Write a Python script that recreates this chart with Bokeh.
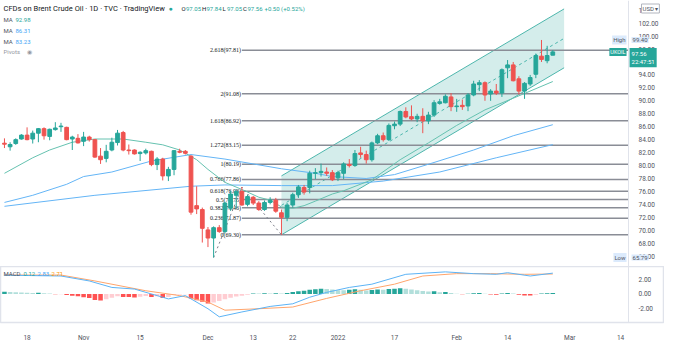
from bokeh.plotting import figure
from bokeh.models import ColumnDataSource, Range1d, FixedTicker, Label, NumeralTickFormatter, LinearAxis
from bokeh.layouts import column
from bokeh.embed import file_html
from bokeh.resources import INLINE

# ---------------- data ----------------
oct_days = [12, 13, 14, 15, 18, 19, 20, 21, 22, 25, 26, 27, 28, 29]
nov_days = [1, 2, 3, 4, 5, 8, 9, 10, 11, 12, 15, 16, 17, 18, 19, 22, 23, 24, 25, 26, 29, 30]
dec_days = [1, 2, 3, 6, 7, 8, 9, 10, 13, 14, 15, 16, 17, 20, 21, 22, 23, 24, 27, 28, 29, 30, 31]
jan_days = [3, 4, 5, 6, 7, 10, 11, 12, 13, 14, 17, 18, 19, 20, 21, 24, 25, 26, 27, 28, 31]
feb_days = [1, 2, 3, 4, 7, 8, 9, 10, 11, 14, 15, 16, 17, 18, 21, 22, 23, 24]
future_days = ["2022-02-25", "2022-02-28", "2022-03-01", "2022-03-02", "2022-03-03", "2022-03-04",
               "2022-03-07", "2022-03-08", "2022-03-09", "2022-03-10", "2022-03-11", "2022-03-14",
               "2022-03-15", "2022-03-16"]

opens = [83.45, 82.9, 83.4, 84.1, 84.7, 84.1, 85.0, 85.7, 84.5, 85.55, 86.0, 85.9, 84.1, 84.2,
         83.75, 84.4, 84.0, 81.45, 81.1, 82.4, 83.55, 85.1, 82.4, 82.4, 81.85, 81.95, 82.2, 80.15,
         81.0, 78.4, 79.4, 82.2, 82.2, 81.45, 73.8, 73.2, 70.05, 68.8, 70.4, 69.8, 73.4, 75.4,
         76.0, 74.0, 75.1, 74.2, 73.2, 74.3, 74.65, 72.7, 72.0, 73.9, 75.5, 76.6, 76.6, 78.8,
         78.9, 79.0, 78.9, 78.1, 78.8, 80.15, 80.0, 81.95, 81.7, 80.9, 83.5, 84.6, 84.0, 86.15,
         86.4, 88.35, 87.55, 87.2, 87.6, 86.9, 87.8, 89.6, 89.7, 90.6, 89.1, 89.3, 89.2, 90.9,
         92.5, 92.8, 91.05, 91.5, 91.2, 95.1, 95.55, 93.4, 91.5, 92.6, 94.1, 96.9, 96.2, 97.05]
highs = [84.2, 83.6, 84.2, 84.85, 85.9, 85.4, 85.8, 85.9, 85.7, 86.7, 86.6, 86.0, 84.6, 84.85,
         85.2, 84.6, 84.1, 82.7, 83.2, 84.3, 85.5, 85.35, 83.25, 82.5, 82.2, 82.6, 82.3, 81.3,
         81.2, 79.8, 82.4, 82.6, 82.4, 81.6, 76.8, 73.5, 70.5, 70.6, 70.8, 74.4, 76.1, 76.35,
         76.68, 75.5, 75.3, 74.5, 74.6, 75.1, 75.0, 73.2, 74.2, 75.8, 77.0, 77.0, 79.2, 79.6,
         80.3, 79.7, 79.3, 79.2, 80.5, 81.0, 82.4, 82.9, 82.3, 83.7, 84.9, 85.1, 86.5, 86.8,
         88.5, 89.0, 89.3, 88.0, 88.85, 88.3, 90.1, 90.3, 91.0, 91.2, 90.3, 90.2, 91.2, 93.1,
         93.2, 93.0, 91.8, 92.6, 95.0, 96.3, 96.0, 93.8, 92.9, 94.0, 97.3, 99.40, 98.5, 97.84]
lows = [82.7, 82.3, 83.2, 84.0, 83.9, 83.4, 83.6, 84.0, 83.9, 85.4, 85.2, 83.9, 82.4, 83.4,
        83.0, 83.7, 81.2, 80.25, 80.5, 82.2, 83.1, 82.2, 81.7, 81.7, 80.7, 81.7, 79.9, 79.3,
        77.7, 77.6, 78.5, 81.9, 81.7, 72.4, 72.5, 68.1, 67.4, 65.79, 69.6, 69.5, 73.0, 73.4,
        73.8, 73.7, 73.9, 73.0, 73.0, 74.0, 72.7, 69.30, 71.4, 73.5, 75.0, 75.5, 75.7, 77.9,
        78.3, 78.4, 77.6, 77.6, 77.9, 79.7, 79.8, 81.2, 80.3, 80.6, 83.3, 83.7, 83.8, 85.6,
        86.1, 87.3, 87.0, 86.7, 85.0, 86.4, 87.5, 89.4, 89.6, 88.4, 88.3, 88.6, 88.4, 90.7,
        91.5, 90.0, 90.0, 90.9, 90.6, 93.5, 93.0, 91.0, 90.3, 92.3, 93.5, 96.0, 95.8, 97.05]
closes = [83.3, 83.25, 84.0, 84.7, 84.0, 85.0, 85.7, 84.6, 85.6, 85.8, 86.1, 84.0, 84.4, 83.5,
          84.4, 84.0, 81.3, 80.9, 82.2, 83.6, 85.0, 82.4, 82.3, 81.8, 82.05, 82.3, 80.15, 81.0,
          78.4, 79.4, 82.3, 82.05, 81.9, 72.8, 73.3, 70.3, 68.8, 70.4, 69.8, 74.2, 75.6, 76.0,
          73.9, 75.2, 74.2, 73.2, 74.3, 74.65, 72.95, 72.0, 73.9, 75.5, 76.7, 75.9, 78.8, 78.9,
          79.1, 78.8, 77.8, 78.9, 80.25, 80.0, 81.85, 81.7, 80.9, 83.5, 84.6, 84.0, 86.2, 86.4,
          88.35, 87.5, 87.2, 87.6, 86.9, 87.8, 89.7, 89.85, 90.7, 89.1, 89.2, 89.1, 90.9, 92.6,
          92.8, 90.9, 91.5, 91.2, 94.8, 95.55, 93.1, 91.5, 92.7, 93.6, 97.0, 96.4, 97.0, 97.56]

# moving averages (date, value)
ma20_dates = ["2021-10-12", "2021-10-19", "2021-10-22", "2021-10-28", "2021-11-03", "2021-11-10",
              "2021-11-16", "2021-11-19", "2021-11-24", "2021-11-29", "2021-12-01", "2021-12-06",
              "2021-12-09", "2021-12-14", "2021-12-16", "2021-12-20", "2021-12-22", "2021-12-24",
              "2021-12-28", "2021-12-31", "2022-01-04", "2022-01-11", "2022-01-18", "2022-01-25",
              "2022-02-01", "2022-02-08", "2022-02-15", "2022-02-24"]
ma20_vals = [78.8, 81.2, 82.4, 83.6, 84.1, 84.1, 83.6, 83.2, 82.4, 80.9, 79.4, 77.4, 76.3, 75.1,
             74.65, 73.6, 73.4, 73.8, 74.5, 75.6, 76.1, 77.8, 80.9, 83.5, 86.2, 88.6, 90.4, 92.98]
ma50_dates = ["2021-10-12", "2021-10-19", "2021-10-27", "2021-11-01", "2021-11-08", "2021-11-17",
              "2021-11-26", "2021-12-06", "2021-12-20", "2021-12-28", "2021-12-31", "2022-01-10",
              "2022-01-17", "2022-01-25", "2022-02-04", "2022-02-15", "2022-02-24"]
ma50_vals = [74.3, 75.4, 77.1, 78.3, 79.0, 80.7, 81.7, 81.0, 79.5, 78.8, 78.3, 78.0, 78.6, 80.2,
             82.4, 84.6, 86.31]
ma100_dates = ["2021-10-12", "2021-11-03", "2021-11-26", "2021-12-06", "2021-12-20", "2021-12-31",
               "2022-01-13", "2022-01-27", "2022-02-10", "2022-02-24"]
ma100_vals = [73.7, 75.4, 76.8, 77.0, 76.9, 76.9, 77.6, 79.0, 81.2, 83.23]

macd_dates = ["2021-10-12", "2021-10-26", "2021-11-02", "2021-11-08", "2021-11-12", "2021-11-18",
              "2021-11-22", "2021-11-25", "2021-12-01", "2021-12-03", "2021-12-09", "2021-12-16",
              "2021-12-22", "2021-12-27", "2021-12-30", "2022-01-05", "2022-01-11", "2022-01-19",
              "2022-01-28", "2022-02-04", "2022-02-10", "2022-02-14", "2022-02-18", "2022-02-24"]
macd_vals = [2.55, 2.44, 1.77, 0.89, 0.67, -0.22, -0.67, -0.22, -2.0, -3.1, -2.44, -1.69, -1.33,
             -0.44, 0.22, 0.89, 1.33, 2.67, 3.0, 2.76, 2.67, 2.89, 2.44, 2.83]
signal_dates = ["2021-10-12", "2021-10-26", "2021-11-03", "2021-11-16", "2021-11-24", "2021-12-01",
                "2021-12-06", "2021-12-14", "2021-12-22", "2021-12-30", "2022-01-07", "2022-01-17",
                "2022-01-24", "2022-02-01", "2022-02-09", "2022-02-17", "2022-02-24"]
signal_vals = [2.57, 2.57, 1.77, 0.44, -0.22, -1.1, -2.2, -2.0, -1.77, -0.6, 0.44, 1.33, 2.44,
               2.76, 2.76, 2.67, 2.71]
hist_vals = [0.30, 0.26, 0.22, 0.20, 0.17, 0.13, 0.16, 0.10, 0.06, -0.03, -0.02, -0.15, -0.25,
             -0.30, -0.45, -0.55, -0.80, -0.90, -0.70, -0.50, -0.30, -0.40, -0.42, -0.48, -0.38,
             -0.28, -0.40, -0.30, -0.55, -0.40, -0.15, -0.06, -0.02, -0.60, -0.85, -1.05, -1.30,
             -1.15, -0.95, -0.70, -0.50, -0.35, -0.25, -0.12, 0.06, 0.05, 0.09, 0.08, 0.10, 0.07,
             0.15, 0.28, 0.38, 0.45, 0.58, 0.65, 0.72, 0.66, 0.60, 0.52, 0.50, 0.58, 0.64, 0.56,
             0.46, 0.55, 0.62, 0.58, 0.66, 0.72, 0.78, 0.70, 0.60, 0.52, 0.42, 0.35, 0.36, 0.24,
             0.26, 0.12, 0.03, -0.04, 0.03, 0.10, 0.12, 0.04, -0.08, -0.10, 0.06, 0.14, 0.06,
             -0.12, -0.20, -0.22, -0.10, 0.06, 0.10, 0.12]

# Fibonacci extension (ratios and prices as labelled) and its anchor points
fib_ratios = ["0", "0.236", "0.382", "0.5", "0.618", "0.786", "1", "1.272", "1.618", "2", "2.618"]
fib_prices = [69.30, 71.87, 73.46, 74.75, 76.03, 77.86, 80.19, 83.15, 86.92, 91.08, 97.81]
fib_anchor_dates = ["2021-12-02", "2021-12-09", "2021-12-20"]
fib_anchor_prices = [65.79, 76.68, 69.30]
fib_start_date = "2021-12-09"

# parallel channel
chan_dates = ["2021-12-20", "2022-02-28"]
chan_lower = [69.30, 95.10]
chan_upper = [78.40, 104.20]
chan_mid = [73.85, 99.65]

price_ticks = [66, 68, 70, 72, 74, 76, 78, 80, 82, 84, 86, 88, 90, 92, 94, 96, 98, 100, 102, 104]
macd_ticks = [-2, 0, 2]
time_tick_dates = ["2021-10-18", "2021-11-01", "2021-11-15", "2021-12-01", "2021-12-13", "2021-12-22",
                   "2022-01-03", "2022-01-17", "2022-02-01", "2022-02-14", "2022-03-01", "2022-03-14"]
time_tick_labels = ["18", "Nov", "15", "Dec", "13", "22", "2022", "17", "Feb", "14", "Mar", "14"]

# ---------------- build ----------------
dates = ([f"2021-10-{d:02d}" for d in oct_days] + [f"2021-11-{d:02d}" for d in nov_days] +
         [f"2021-12-{d:02d}" for d in dec_days] + [f"2022-01-{d:02d}" for d in jan_days] +
         [f"2022-02-{d:02d}" for d in feb_days])
all_dates = dates + future_days
idx = {d: i for i, d in enumerate(all_dates)}
xs = [idx[d] for d in dates]

GREEN = "#26a69a"
RED = "#ef5350"
BLUE_T = "#42a5f5"
FONT = "Roboto"
TXT = "#131722"
AXT = "#50535e"

W = 664
X0, X1 = -0.7, 116.76      # visible index range (price scale occupies the right strip)
AXIS_X = 110.4             # where the price scale begins
x_range = Range1d(X0, X1)

main = figure(frame_width=W, frame_height=266, x_range=x_range, y_range=Range1d(64.4, 105.5),
              y_axis_location=None, x_axis_location=None, toolbar_location=None,
              output_backend="svg", min_border_left=0, min_border_right=0, min_border_top=0,
              min_border_bottom=0, outline_line_color=None)
main.grid.visible = False


def price_axis(fig, ticks):
    ax = LinearAxis(ticker=FixedTicker(ticks=ticks), formatter=NumeralTickFormatter(format="0.00"),
                    fixed_location=AXIS_X)
    ax.major_tick_line_color = None
    ax.minor_tick_line_color = None
    ax.axis_line_color = "#e0e3eb"
    ax.axis_line_width = 1
    ax.major_label_text_font_size = "6.5px"
    ax.major_label_text_font = FONT
    ax.major_label_text_color = AXT
    ax.major_label_standoff = 4
    fig.add_layout(ax, "right")
    return ax


# channel
cx = [idx[d] for d in chan_dates]
main.varea(x=cx, y1=chan_lower, y2=chan_upper, fill_color=GREEN, fill_alpha=0.2)
main.line(cx, chan_lower, line_color="#4db6ac", line_width=1)
main.line(cx, chan_upper, line_color="#4db6ac", line_width=1)
main.line(cx, chan_mid, line_color="#4db6ac", line_width=1, line_dash="3 3")

# fib levels
fx0 = idx[fib_start_date]
n = len(fib_prices)
main.segment(x0=[fx0] * n, y0=fib_prices, x1=[AXIS_X] * n, y1=fib_prices,
             line_color="#8a8d96", line_width=1.5)
main.text(x=[fx0] * n, y=fib_prices,
          text=[f"{r}({p:.2f})" for r, p in zip(fib_ratios, fib_prices)],
          text_font_size="6px", text_color=TXT, text_align="right", text_baseline="middle",
          x_offset=-1, text_font=FONT)
main.line([idx[d] for d in fib_anchor_dates], fib_anchor_prices, line_color="#787b86",
          line_width=1, line_dash="2 3")

# MAs
main.line([idx[d] for d in ma100_dates], ma100_vals, line_color="#64b5f6", line_width=1)
main.line([idx[d] for d in ma50_dates], ma50_vals, line_color="#64b5f6", line_width=1)
main.line([idx[d] for d in ma20_dates], ma20_vals, line_color="#66c2b0", line_width=1)

# candles
colors = [GREEN if c >= o else RED for o, c in zip(opens, closes)]
src = ColumnDataSource(dict(x=xs, o=opens, h=highs, l=lows, c=closes,
                            top=[max(o, c) for o, c in zip(opens, closes)],
                            bot=[min(o, c) for o, c in zip(opens, closes)], col=colors))
main.segment(x0="x", y0="h", x1="x", y1="l", line_color="col", line_width=1, source=src)
main.vbar(x="x", width=0.66, top="top", bottom="bot", fill_color="col", line_color="col", source=src)

price_axis(main, price_ticks)


def lab(fig, x, y, text, color=TXT, size="6px", align="left", xu="screen", yu="screen",
        bg=None, border=None, pad=0, xo=0, yo=0, baseline="middle"):
    l = Label(x=x, y=y, x_units=xu, y_units=yu, text=text, text_color=color,
              text_font_size=size, text_font=FONT, text_align=align, text_baseline=baseline,
              background_fill_color=bg, border_line_color=border, padding=pad,
              x_offset=xo, y_offset=yo)
    fig.add_layout(l)


H = 266
lab(main, 3, H - 8, "CFDs on Brent Crude Oil · 1D · TVC · TradingView", size="7.5px")
lab(main, 168, H - 8, "●", color=GREEN, size="7px")
ohlc = [("O", "97.05", 181), ("H", "97.84", 201.5), ("L", "97.05", 222), ("C", "97.56", 242.5)]
for k, v, xx in ohlc:
    lab(main, xx, H - 8, k)
    lab(main, xx + 4.5, H - 8, v, color=GREEN)
lab(main, 264, H - 8, "+0.50 (+0.52%)", color=GREEN)
lab(main, 3, H - 19, "MA", color=AXT)
lab(main, 15, H - 19, "92.98", color=GREEN)
lab(main, 3, H - 30, "MA", color=AXT)
lab(main, 15, H - 30, "86.31", color=BLUE_T)
lab(main, 3, H - 41, "MA", color=AXT)
lab(main, 15, H - 41, "83.23", color=BLUE_T)
lab(main, 3, H - 51, "Pivots", color="#9598a1")
lab(main, 26, H - 51, "◉", color="#9598a1", size="6px")

# price tags on the scale
lab(main, AXIS_X, highs[-3], "High", color=AXT, size="6px", align="right", xu="data", yu="data",
    bg="#dbeafc", pad=1, xo=-2)
lab(main, AXIS_X, highs[-3], "99.40", color=AXT, size="6px", xu="data", yu="data",
    bg="#dbeafc", pad=1, xo=3)
lab(main, AXIS_X, closes[-1], "UKOIL", color="white", size="5.5px", align="right", xu="data",
    yu="data", bg=GREEN, pad=1, xo=-2)
lab(main, AXIS_X, closes[-1], "97.56\n22:47:51", color="white", size="6px", xu="data",
    yu="data", bg=GREEN, pad=2, xo=1, yo=4, baseline="top")
lab(main, AXIS_X, min(lows), "Low", color=AXT, size="6px", align="right", xu="data", yu="data",
    bg="#dbeafc", pad=1, xo=-2)
lab(main, AXIS_X, min(lows), "65.79", color=AXT, size="6px", xu="data", yu="data",
    bg="#dbeafc", pad=1, xo=3)
lab(main, W - 23, H - 8, "USD ▾", color=AXT, size="6px", bg="white", border="#b2b5be", pad=1)

# ---------------- MACD ----------------
macd = figure(frame_width=W, frame_height=56, x_range=x_range, y_range=Range1d(-3.87, 3.73),
              y_axis_location=None, toolbar_location=None, output_backend="svg",
              min_border_left=0, min_border_right=0, min_border_top=0, min_border_bottom=3,
              outline_line_color="#e0e3eb", outline_line_width=1.5)
macd.grid.visible = False
mx = macd.xaxis[0]
mx.ticker = FixedTicker(ticks=[idx[d] for d in time_tick_dates])
mx.major_label_overrides = {idx[d]: t for d, t in zip(time_tick_dates, time_tick_labels)}
mx.major_tick_line_color = None
mx.minor_tick_line_color = None
mx.axis_line_color = "#e0e3eb"
mx.major_label_text_font_size = "6.5px"
mx.major_label_text_font = FONT
mx.major_label_text_color = AXT
mx.major_label_standoff = 5

hcol = []
prev = 0.0
for h in hist_vals:
    if h >= 0:
        hcol.append("#26a69a" if h > prev else "#b2dfdb")
    else:
        hcol.append("#ff5252" if h < prev else "#ffcdd2")
    prev = h
macd.vbar(x=xs, width=0.8, top=hist_vals, bottom=0, fill_color=hcol, line_color=None)
macd.line([idx[d] for d in signal_dates], signal_vals, line_color="#ffa56c", line_width=1)
macd.line([idx[d] for d in macd_dates], macd_vals, line_color="#5cb3f5", line_width=1)
price_axis(macd, macd_ticks)

lab(macd, 3, 49, "MACD", color=AXT)
lab(macd, 23, 49, "0.12", color=GREEN)
lab(macd, 37, 49, "2.83", color=BLUE_T)
lab(macd, 51, 49, "2.71", color="#ff9800")

layout = column(main, macd, spacing=0)
open("out.html", "w").write(file_html(layout, INLINE))
